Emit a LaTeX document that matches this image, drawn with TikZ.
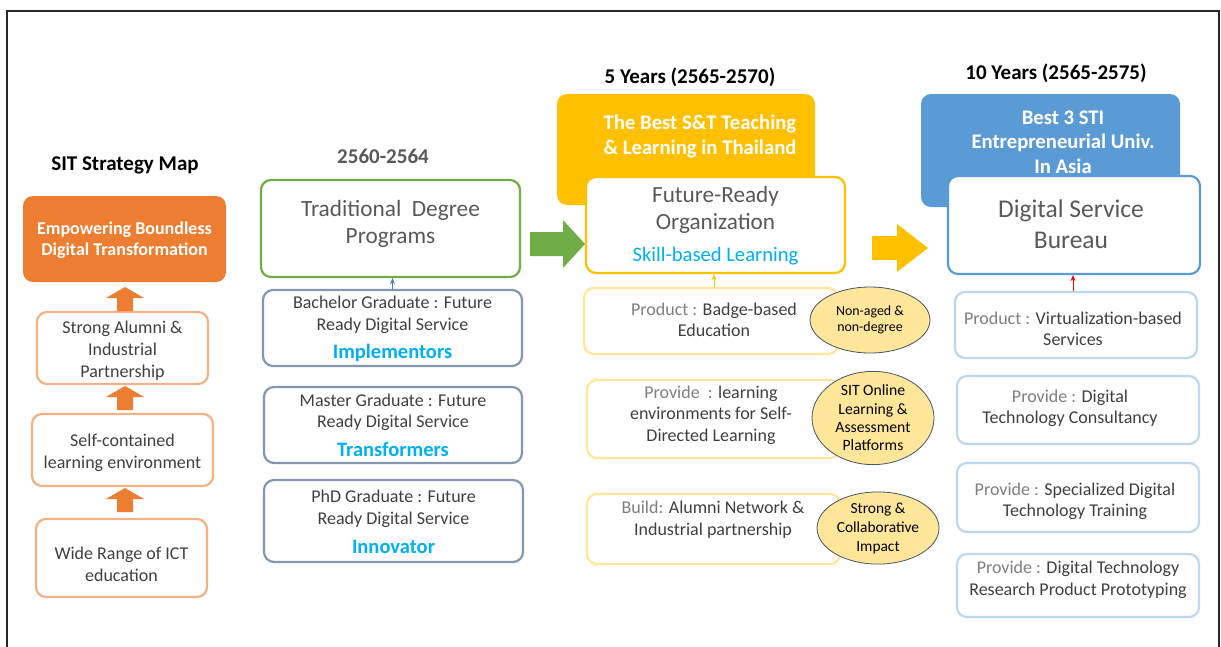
\documentclass[tikz,border=0pt]{standalone}
\usepackage{fontspec}
\setmainfont{Carlito}
\usetikzlibrary{arrows.meta,calc,shapes.geometric}
\definecolor{corange}{HTML}{ED7D31}
\definecolor{lorange}{HTML}{F4B183}
\definecolor{cgreen}{HTML}{70AD47}
\definecolor{slate}{HTML}{8497B0}
\definecolor{gold}{HTML}{FFC000}
\definecolor{lyellow}{HTML}{FFE699}
\definecolor{ellfill}{HTML}{FFE699}
\definecolor{ellline}{HTML}{44546A}
\definecolor{cblue}{HTML}{5B9BD5}
\definecolor{lblue}{HTML}{BDD7EE}
\definecolor{sky}{HTML}{00B0F0}
\definecolor{dgray}{HTML}{404040}
\definecolor{mgray}{HTML}{595959}
\definecolor{lgray}{HTML}{7F7F7F}
\newcommand{\fs}[2]{\fontsize{#1}{#2}\selectfont}
\newcommand{\lab}[1]{\textcolor{lgray}{#1}}
\newcommand{\role}[1]{{\color{sky}\bfseries\fs{20.5}{22}#1}}
\tikzset{
  box/.style={rectangle, rounded corners=10pt, inner sep=0pt, line width=2.2pt},
  leftbox/.style={box, draw=lorange},
  degbox/.style={box, draw=slate},
  ybox/.style={box, draw=lyellow},
  bbox/.style={box, draw=lblue},
  txt/.style={align=center, inner sep=0pt, text=dgray},
  ell/.style={ellipse, draw=ellline, fill=ellfill, line width=0.8pt, align=center, inner sep=0pt, text=black},
  head/.style={font=\bfseries\fs{21}{24}, text=black, inner sep=0pt},
  thin/.style={-{Stealth[length=6pt,width=5pt]}, line width=0.9pt},
}
\begin{document}
\begin{tikzpicture}[x=1pt,y=-1pt]
\useasboundingbox (0,0) rectangle (1221,646);
\fill[white] (0,0) rectangle (1221,646);
\draw[line width=2pt, black!85] (7,700) -- (7,11) -- (1219,11) -- (1219,700);

% ---------- left column
\node[head] (smap) at (125,165) {SIT Strategy Map};
\node[box, fill=corange, draw=none, minimum width=203pt, minimum height=86pt] (emp) at (124.5,239) {};
\node[txt, text=white, font=\bfseries\fs{18}{21}] (empt) at (124.5,240) {Empowering Boundless\\Digital Transformation};
\node[leftbox, minimum width=171pt, minimum height=72pt] (alum) at (122.5,348) {};
\node[txt, font=\fs{18}{22}] (alumt) at (122.5,350.5) {Strong Alumni \&\\Industrial\\Partnership};
\node[leftbox, minimum width=181pt, minimum height=72pt] (selfc) at (122.5,450) {};
\node[txt, font=\fs{18}{22}] (selfct) at (122.5,452.5) {Self-contained\\learning environment};
\node[leftbox, minimum width=171pt, minimum height=78pt] (wide) at (121.5,558) {};
\node[txt, font=\fs{18}{22}] (widet) at (121.5,564.5) {Wide Range of ICT\\education};
\foreach \t in {287,386,488}{
  \fill[corange] (117,\t+24) -- (117,\t+11) -- (106,\t+11) -- (125,\t) -- (144,\t+11) -- (133,\t+11) -- (133,\t+24) -- cycle;
}

% ---------- second column
\node[head, text=mgray] (y1) at (383,156) {2560-2564};
\node[box, draw=cgreen, minimum width=259pt, minimum height=97pt] (trad) at (390.5,228.5) {};
\node[txt, text=mgray, font=\fs{23.3}{27}] (tradt) at (390.5,224) {Traditional\ \ Degree\\Programs};
\node[degbox, minimum width=259pt, minimum height=76pt] (bach) at (392.5,328) {};
\node[txt, font=\fs{18}{22}] (bacht) at (392.5,328.5) {Bachelor Graduate : Future\\Ready Digital Service\\[6pt]\role{Implementors}};
\node[degbox, minimum width=258pt, minimum height=76pt] (mast) at (393,425) {};
\node[txt, font=\fs{18}{21}] (mastt) at (393,425.5) {Master Graduate : Future\\Ready Digital Service\\[8pt]\role{Transformers}};
\node[degbox, minimum width=259pt, minimum height=82pt] (phd) at (393.5,521) {};
\node[txt, font=\fs{18}{22}] (phdt) at (393.5,522) {PhD Graduate : Future\\Ready Digital Service\\[7pt]\role{Innovator}};
\draw[thin, draw=cblue!80!black] (bach.north) -- (bach.north |- trad.south);

% green block arrow
\fill[cgreen] (530,232) -- (563,232) -- (563,220) -- (585,244) -- (563,268) -- (563,256) -- (530,256) -- cycle;

% ---------- third column
\node[head] (y5) at (690,77) {5 Years (2565-2570)};
\node[box, fill=gold, draw=none, minimum width=258pt, minimum height=111pt] (gold) at (686,149.5) {};
\node[txt, font=\bfseries\fs{20.7}{25}, text=white] (goldt) at (700,136) {The Best S\&T Teaching\\\& Learning in Thailand};
\node[box, draw=gold, fill=white, minimum width=259pt, minimum height=96pt] (fro) at (715.5,225) {};
\node[txt, font=\fs{23.2}{27}, text=mgray] (frot) at (715.5,226) {Future-Ready\\Organization\\[5pt]{\color{sky}\fs{20.6}{22}Skill-based Learning}};
\node[ybox, minimum width=254pt, minimum height=66pt] (prod1) at (711,321) {};
\node[txt, font=\fs{18}{21}] (prod1t) at (714,320) {\lab{Product :} Badge-based\\Education};
\node[ybox, minimum width=253pt, minimum height=78pt] (prov1) at (713.5,419) {};
\node[txt, font=\fs{18}{21.5}] (prov1t) at (711,415) {\lab{Provide\ \ :} learning\\environments for Self-\\Directed Learning};
\node[ybox, minimum width=253pt, minimum height=70pt] (build) at (713.5,529) {};
\node[txt, font=\fs{18}{22}] (buildt) at (713,519.5) {\lab{Build:} Alumni Network \&\\Industrial partnership};
\draw[thin, draw=gold] (prod1.north -| prod1t) -- (prod1t |- fro.south);
\node[ell, minimum width=120pt, minimum height=66pt, font=\fs{13.9}{16}] (e1) at (870,320) {Non-aged \&\\non-degree};
\node[ell, minimum width=122pt, minimum height=88pt, font=\fs{15.7}{18.3}] (e2) at (873,418) {SIT Online\\Learning \&\\Assessment\\Platforms};
\node[ell, minimum width=122pt, minimum height=70pt, font=\fs{15.4}{19}] (e3) at (878,528) {Strong \&\\Collaborative\\Impact};

% yellow block arrow
\fill[gold] (872,236) -- (897,236) -- (897,224) -- (928,248) -- (897,272) -- (897,260) -- (872,260) -- cycle;

% ---------- fourth column
\node[head] (y10) at (1056,73) {10 Years (2565-2575)};
\node[box, fill=cblue, draw=none, minimum width=259pt, minimum height=113pt] (blue) at (1050.5,150.5) {};
\node[txt, font=\bfseries\fs{20.7}{24.5}, text=white] (bluet) at (1063,142) {Best 3 STI\\Entrepreneurial Univ.\\In Asia};
\node[box, draw=cblue, fill=white, minimum width=252pt, minimum height=98pt] (dsb) at (1074,225) {};
\node[txt, font=\fs{25.5}{31}, text=mgray] (dsbt) at (1071,224) {Digital Service\\Bureau};
\node[bbox, minimum width=242pt, minimum height=66pt] (p4a) at (1076,325) {};
\node[txt, font=\fs{18}{21}] (p4at) at (1073,329) {\lab{Product :} Virtualization-based\\Services};
\node[bbox, minimum width=242pt, minimum height=68pt] (p4b) at (1078,410) {};
\node[txt, font=\fs{18}{21}] (p4bt) at (1070,408) {\lab{Provide :} Digital\\Technology Consultancy};
\node[bbox, minimum width=242pt, minimum height=69pt] (p4c) at (1078,497.5) {};
\node[txt, font=\fs{18}{21}] (p4ct) at (1075,501) {\lab{Provide :} Specialized Digital\\Technology Training};
\node[bbox, minimum width=242pt, minimum height=63pt] (p4d) at (1078,585.5) {};
\node[txt, font=\fs{18}{21.5}] (p4dt) at (1078,580) {\lab{Provide :} Digital Technology\\Research Product Prototyping};
\draw[thin, draw=red] (p4a.north -| p4at) -- (p4at |- dsb.south);
\end{tikzpicture}
\end{document}
